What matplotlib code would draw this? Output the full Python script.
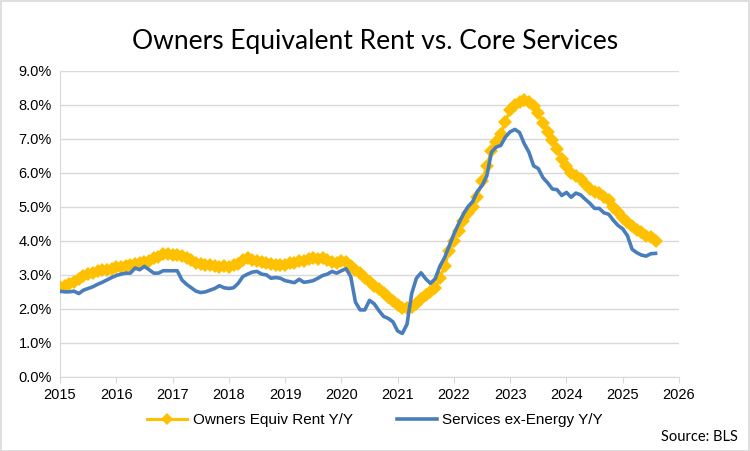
import matplotlib
matplotlib.use('Agg')
import matplotlib.pyplot as plt
import numpy as np
from matplotlib.patches import Rectangle
from matplotlib.ticker import FuncFormatter, MultipleLocator

# monthly Y/Y %, Jan 2015 .. Aug 2025
start_year = 2015
oer = [2.65, 2.68, 2.72, 2.80, 2.88, 2.98, 3.02, 3.05, 3.10, 3.14, 3.15, 3.18,
       3.22, 3.24, 3.26, 3.30, 3.32, 3.34, 3.38, 3.42, 3.48, 3.52, 3.60, 3.62,
       3.58, 3.58, 3.55, 3.50, 3.45, 3.35, 3.32, 3.30, 3.30, 3.25, 3.22, 3.25,
       3.24, 3.28, 3.32, 3.45, 3.48, 3.44, 3.40, 3.38, 3.35, 3.32, 3.30, 3.28,
       3.28, 3.34, 3.36, 3.40, 3.42, 3.46, 3.48, 3.47, 3.49, 3.44, 3.38, 3.36,
       3.42, 3.38, 3.25, 3.15, 3.04, 2.92, 2.80, 2.68, 2.58, 2.48, 2.35, 2.24,
       2.12, 2.03, 2.02, 2.05, 2.14, 2.28, 2.42, 2.51, 2.62, 2.90, 3.25, 3.70,
       4.00, 4.30, 4.58, 4.82, 5.00, 5.30, 5.75, 6.20, 6.65, 6.90, 7.15, 7.50,
       7.85, 8.00, 8.08, 8.13, 8.08, 7.95, 7.75, 7.45, 7.20, 6.95, 6.70, 6.40,
       6.20, 6.00, 5.90, 5.82, 5.68, 5.52, 5.42, 5.40, 5.30, 5.20, 5.00, 4.85,
       4.68, 4.55, 4.42, 4.33, 4.25, 4.15, 4.10, 4.00]
services = [2.52, 2.50, 2.50, 2.52, 2.45, 2.55, 2.60, 2.65, 2.72, 2.78, 2.85, 2.92,
            2.98, 3.02, 3.05, 3.05, 3.20, 3.15, 3.25, 3.15, 3.05, 3.05, 3.12, 3.12,
            3.12, 3.12, 2.85, 2.72, 2.62, 2.52, 2.48, 2.50, 2.55, 2.60, 2.68, 2.62,
            2.60, 2.62, 2.75, 2.95, 3.02, 3.08, 3.10, 3.02, 3.00, 2.90, 2.92, 2.90,
            2.83, 2.80, 2.77, 2.87, 2.78, 2.80, 2.83, 2.90, 2.98, 3.02, 3.10, 3.05,
            3.12, 3.18, 2.95, 2.20, 1.97, 1.97, 2.25, 2.15, 1.95, 1.78, 1.72, 1.62,
            1.35, 1.28, 1.55, 2.45, 2.90, 3.06, 2.88, 2.75, 2.88, 3.25, 3.50, 3.85,
            4.20, 4.50, 4.78, 5.00, 5.15, 5.45, 5.62, 5.90, 6.60, 6.75, 6.80, 7.05,
            7.20, 7.27, 7.18, 6.85, 6.60, 6.20, 6.12, 5.85, 5.70, 5.52, 5.50, 5.33,
            5.42, 5.28, 5.40, 5.35, 5.22, 5.10, 4.95, 4.95, 4.82, 4.78, 4.60, 4.45,
            4.35, 4.15, 3.75, 3.65, 3.58, 3.55, 3.62, 3.63]
years = list(range(2015, 2027))

dates = start_year + np.arange(len(oer)) / 12.0

W, H = 750, 451
fig = plt.figure(figsize=(W / 100, H / 100), dpi=100)
fig.patches.append(Rectangle((0.5 / W, 0.5 / H), 1 - 1.5 / W, 1 - 1.5 / H,
                             transform=fig.transFigure, fill=False,
                             edgecolor='#D9D9D9', lw=1.2))

ax = fig.add_axes([60 / W, 1 - 377 / H, (679 - 60) / W, (377 - 70.5) / H])

ax.plot(dates, oer, color='#FFC000', lw=2.2, marker='D', markersize=7,
        markeredgewidth=0, label='Owners Equiv Rent Y/Y', zorder=3)
ax.plot(dates, services, color='#4A7EBB', lw=2.6,
        label='Services ex-Energy Y/Y', zorder=4)

ax.set_xlim(years[0], years[-1])
ax.set_ylim(0, 9)
ax.set_xticks(years)
ax.set_xticklabels([str(y) for y in years])
ax.yaxis.set_major_locator(MultipleLocator(1))
ax.yaxis.set_major_formatter(FuncFormatter(lambda v, p: '%.1f%%' % v))

ax.grid(axis='y', color='#D9D9D9', lw=1)
ax.set_axisbelow(True)
for s in ['top', 'right']:
    ax.spines[s].set_visible(False)
ax.spines['left'].set_color('#D9D9D9')
ax.spines['bottom'].set_color('#D9D9D9')
ax.tick_params(axis='x', length=4, color='#D9D9D9', labelsize=10.5, pad=4,
               labelcolor='black')
ax.tick_params(axis='y', length=0, labelsize=10.5, pad=6, labelcolor='black')
for lab in ax.get_xticklabels() + ax.get_yticklabels():
    lab.set_family('Liberation Sans')

fig.text(0.5, 1 - 42 / H, 'Owners Equivalent Rent vs. Core Services',
         ha='center', va='center', fontsize=19, family='Lato')

fig.legend(loc='center', bbox_to_anchor=(0.5, 1 - 420 / H), ncol=2,
           frameon=False, handlelength=2.6, handletextpad=0.35,
           columnspacing=2.9, markerscale=0.9,
           prop={'family': 'Liberation Sans', 'size': 11})

fig.text(738 / W, 1 - 437 / H, 'Source: BLS', ha='right', va='center',
         fontsize=10.5, family='Lato')

fig.savefig('out.png', dpi=100)
